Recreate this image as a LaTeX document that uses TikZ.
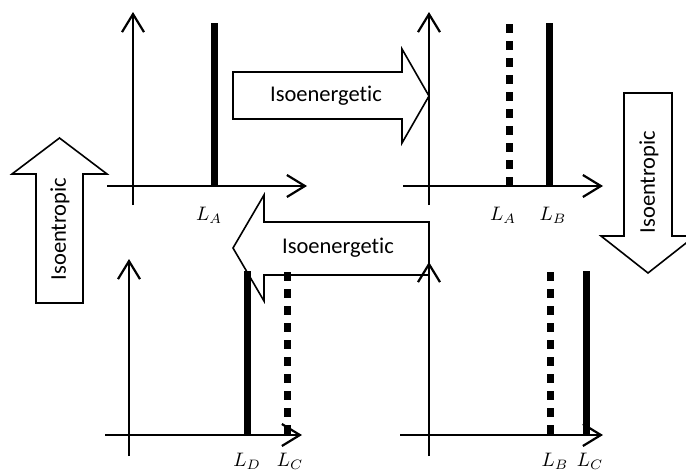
\documentclass[tikz,border=0pt]{standalone}
\usepackage{graphicx}
\usepackage{fontspec}
\setmainfont{Carlito}[Ligatures=NoCommon]
\usetikzlibrary{arrows.meta}
\newcommand{\biglbl}[1]{\scalebox{1.95}{$#1$}}
\begin{document}
\begin{tikzpicture}[x=1pt,y=-1pt,
 axis/.style={line width=2.2pt,-{Straight Barb[length=18pt,width=22pt]}},
 blockarrow/.style={draw=black,line width=1.6pt,fill=white,line join=miter},
 solidbar/.style={line width=7pt},
 dotbar/.style={line width=7pt,dash pattern=on 9pt off 8pt},
 lbl/.style={inner sep=0pt},
 arrtext/.style={font=\fontsize{22.5}{26}\selectfont,inner sep=0pt}]
\clip (0,0) rectangle (686,474);
% block arrows
\draw[blockarrow] (36,303) -- (36,174) -- (12,174) -- (59.5,138) -- (107,174) -- (83,174) -- (83,303) -- cycle;
\draw[blockarrow] (233,72) -- (402,72) -- (402,49) -- (429,96) -- (402,143) -- (402,119) -- (233,119) -- cycle;
\draw[blockarrow] (429,222) -- (264,222) -- (264,195) -- (233,248) -- (264,301) -- (264,275) -- (429,275) -- cycle;
\draw[blockarrow] (624,93) -- (672,93) -- (672,236) -- (695,236) -- (648,273) -- (601,236) -- (624,236) -- cycle;
\node[arrtext] (t1) at (326,96) {Isoenergetic};
\node[arrtext] (t2) at (338,248) {Isoenergetic};
\node[arrtext,rotate=90] (t3) at (60,229) {Isoentropic};
\node[arrtext,rotate=90] (t4) at (649,182) {Isoentropic};
% top-left panel
\draw[axis] (133,205) -- (133,12);
\draw[axis] (107,186) -- (307,186);
\draw[solidbar] (214,23) -- (214,186);
\node[lbl] (la1) at (209,215) {\biglbl{L_A}};
% top-right panel
\draw[axis] (429,205) -- (429,12);
\draw[axis] (403,186) -- (603,186);
\draw[dotbar] (509,24) -- (509,186);
\draw[solidbar] (549,23) -- (549,186);
\node[lbl] (la2) at (503,215) {\biglbl{L_A}};
\node[lbl] (lb1) at (553,215) {\biglbl{L_B}};
% bottom-left panel
\draw[axis] (129,456) -- (129,259);
\draw[axis] (105,435) -- (302,435);
\draw[solidbar] (247,271) -- (247,435);
\draw[dotbar] (287,272) -- (287,435);
\node[lbl] (ld) at (247,461) {\biglbl{L_D}};
\node[lbl] (lc1) at (290,461) {\biglbl{L_C}};
% bottom-right panel
\draw[axis] (429,456) -- (429,262);
\draw[axis] (400,435) -- (603,435);
\draw[dotbar] (550,272) -- (550,435);
\draw[solidbar] (586,271) -- (586,435);
\node[lbl] (lb2) at (555,461) {\biglbl{L_B}};
\node[lbl] (lc2) at (590,461) {\biglbl{L_C}};
\end{tikzpicture}
\end{document}
